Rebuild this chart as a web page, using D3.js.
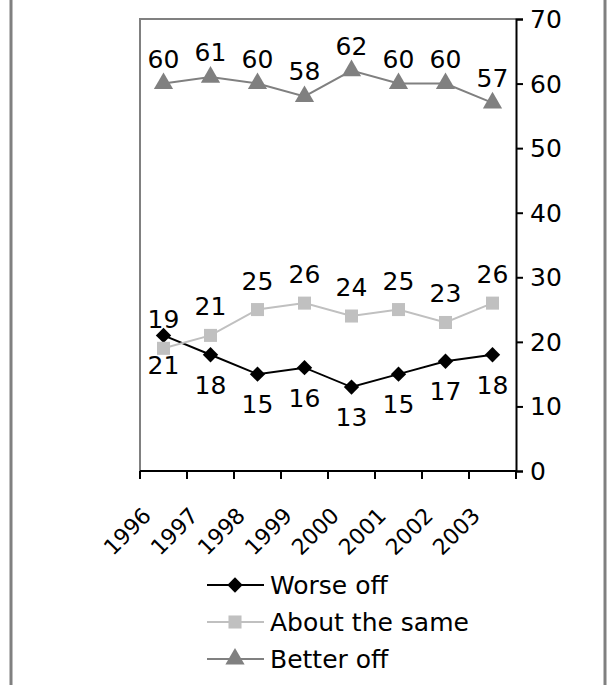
<!DOCTYPE html>
<html>
<head>
<meta charset="utf-8">
<script src="https://cdn.jsdelivr.net/npm/d3@7"></script>
<style>
  html, body { margin: 0; padding: 0; background: #fff; }
  svg text { font-family: "DejaVu Sans", Verdana, sans-serif; fill: #000; }
</style>
</head>
<body>
<svg id="chart" width="607" height="685"></svg>
<script>
const years = ["1996", "1997", "1998", "1999", "2000", "2001", "2002", "2003"];
const worseOff = [21, 18, 15, 16, 13, 15, 17, 18];
const aboutSame = [19, 21, 25, 26, 24, 25, 23, 26];
const betterOff = [60, 61, 60, 58, 62, 60, 60, 57];
const yTicks = [0, 10, 20, 30, 40, 50, 60, 70];
const seriesNames = ["Worse off", "About the same", "Better off"];

const series = [
  { name: seriesNames[0], values: worseOff, color: "#000000", marker: "diamond", labelDy: 39 },
  { name: seriesNames[1], values: aboutSame, color: "#c0c0c0", marker: "square", labelDy: -20 },
  { name: seriesNames[2], values: betterOff, color: "#808080", marker: "triangle", labelDy: -16 }
];

const svg = d3.select("#chart");
const pLeft = 140, pRight = 516, pTop = 19, pBottom = 471;
const FS = 25, SX = 1.0;

// outer frame
svg.append("rect").attr("x", 11).attr("y", -5).attr("width", 594).attr("height", 700)
  .attr("fill", "none").attr("stroke", "#808080").attr("stroke-width", 3);

const x = d3.scaleBand().domain(years).range([pLeft, pRight]);
const y = d3.scaleLinear().domain([0, 70]).range([pBottom, pTop]);

// plot area border (top and left gray)
svg.append("path").attr("d", `M${pLeft},${pBottom}V${pTop}H${pRight}`)
  .attr("fill", "none").attr("stroke", "#808080").attr("stroke-width", 2);

function stretchedText(g, tx, ty, str, anchor, extra) {
  const t = g.append("g").attr("transform", `translate(${tx},${ty})${extra || ""} scale(${SX},1)`);
  t.append("text").attr("text-anchor", anchor).attr("font-size", FS).text(str);
  return t;
}

// right axis
const yAxis = d3.axisRight(y).tickValues(yTicks).tickSize(7).tickFormat("");
const ya = svg.append("g").attr("transform", `translate(${pRight},0)`).call(yAxis);
ya.selectAll("path,line").attr("stroke", "#000").attr("stroke-width", 2);
yTicks.forEach(v => stretchedText(svg, pRight + 14, y(v) + 9, String(v), "start"));

// bottom axis with ticks at category boundaries
const boundaries = years.map(d => x(d)).concat([pRight]);
svg.append("line").attr("x1", pLeft).attr("x2", pRight).attr("y1", pBottom).attr("y2", pBottom)
  .attr("stroke", "#000").attr("stroke-width", 2);
svg.selectAll(".xt").data(boundaries).enter().append("line")
  .attr("x1", d => d).attr("x2", d => d).attr("y1", pBottom).attr("y2", pBottom + 8)
  .attr("stroke", "#000").attr("stroke-width", 2);

// x labels rotated
years.forEach(yr => {
  const cx = x(yr) + x.bandwidth() / 2;
  svg.append("text").attr("text-anchor", "end").attr("font-size", 22)
    .attr("transform", `translate(${cx - 11},${pBottom + 46}) rotate(-45)`)
    .text(yr);
});

// markers
const sym = {
  diamond: d3.symbol().type(d3.symbolDiamond2).size(150),
  square: d3.symbol().type(d3.symbolSquare).size(170),
  triangle: d3.symbol().type(d3.symbolTriangle).size(160)
};

const line = d3.line().x((d, i) => x(years[i]) + x.bandwidth() / 2).y(d => y(d));

series.forEach(s => {
  svg.append("path").datum(s.values).attr("d", line)
    .attr("fill", "none").attr("stroke", s.color).attr("stroke-width", 2);
});
series.forEach(s => {
  s.values.forEach((v, i) => {
    const cx = x(years[i]) + x.bandwidth() / 2, cy = y(v);
    svg.append("path").attr("d", sym[s.marker]())
      .attr("transform", `translate(${cx},${cy})`).attr("fill", s.color);
  });
});
// data labels
series.forEach(s => {
  s.values.forEach((v, i) => {
    const cx = x(years[i]) + x.bandwidth() / 2, cy = y(v);
    stretchedText(svg, cx, cy + s.labelDy, String(v), "middle");
  });
});

// legend
const lg = svg.append("g");
series.forEach((s, i) => {
  const ly = 585 + i * 37;
  lg.append("line").attr("x1", 207).attr("x2", 264).attr("y1", ly).attr("y2", ly)
    .attr("stroke", s.color).attr("stroke-width", 2);
  lg.append("path").attr("d", sym[s.marker]()).attr("transform", `translate(235,${ly})`).attr("fill", s.color);
  stretchedText(lg, 270, ly + 9, s.name, "start");
});
</script>
</body>
</html>
